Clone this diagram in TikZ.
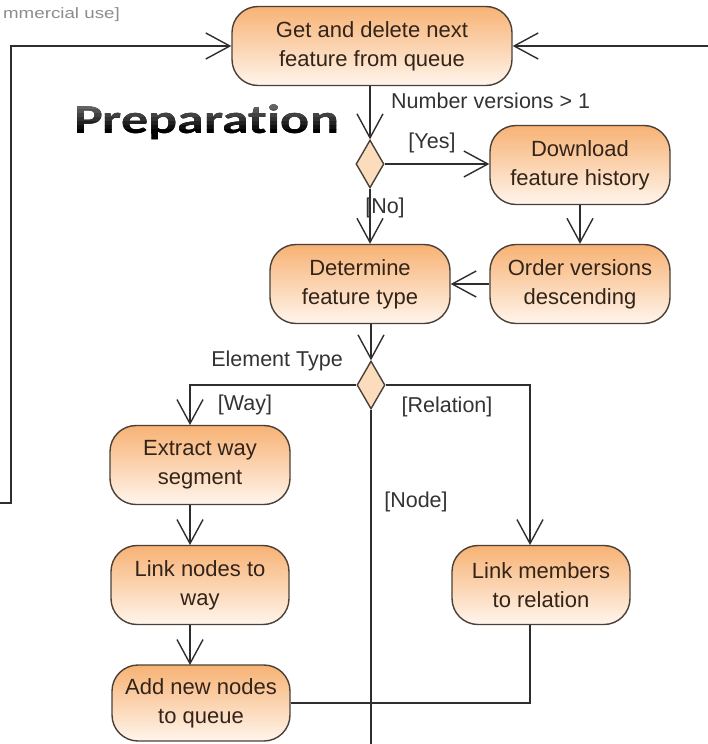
\documentclass[tikz,border=0pt]{standalone}
\usepackage{fontspec}
\usepackage{graphicx}
\setmainfont{Liberation Sans}
\newfontfamily\titlefont[Ligatures=NoCommon]{Carlito}
\usetikzlibrary{arrows.meta,shapes.geometric}

\definecolor{edgecol}{HTML}{2E2E2E}
\definecolor{actborder}{HTML}{4A4038}
\definecolor{acttext}{HTML}{33241A}
\definecolor{acttop}{HTML}{F7B274}
\definecolor{actbot}{HTML}{FFF5EC}
\definecolor{decfill}{HTML}{FBDDBE}
\definecolor{labelcol}{HTML}{333333}
\definecolor{notecol}{HTML}{8C8C8C}

\newcommand{\headingtext}{\scalebox{1.32}[1]{\titlefont\bfseries\fontsize{41}{41}\selectfont Preparat\kern0pt ion}}

\tikzset{
  activity/.style={rectangle, rounded corners=26pt, draw=actborder, line width=1.4pt,
    top color=acttop, bottom color=actbot, minimum height=79pt, inner sep=0pt,
    align=center, text=acttext, font=\fontsize{22}{29}\selectfont},
  decision/.style={diamond, draw=actborder, line width=1.4pt, fill=decfill,
    minimum width=28pt, minimum height=48pt, inner sep=0pt},
  flow/.style={draw=edgecol, line width=1.4pt},
  flowarrow/.style={flow, -{Straight Barb[length=24pt, width=26pt, line width=1.4pt]}},
  guard/.style={text=labelcol, font=\fontsize{21.5}{24}\selectfont, inner sep=0pt},
  headingword/.style={inner sep=0pt, anchor=base west}
}

\begin{document}
\begin{tikzpicture}[x=1pt, y=-1pt]
  \useasboundingbox (0,0) rectangle (708,744);

  % activities
  \node[activity, minimum width=280pt] (get) at (372,46) {Get and delete next\\feature from queue};
  \node[activity, minimum width=180pt] (download) at (580,165) {Download\\feature history};
  \node[activity, minimum width=180pt] (order) at (580,284) {Order versions\\descending};
  \node[activity, minimum width=180pt] (determine) at (360,284) {Determine\\feature type};
  \node[activity, minimum width=180pt] (extract) at (200,465) {Extract way\\segment};
  \node[activity, minimum width=178pt] (linknodes) at (200,585) {Link nodes to\\way};
  \node[activity, minimum width=178pt, minimum height=76pt] (addnodes) at (201,703) {Add new nodes\\to queue};
  \node[activity, minimum width=178pt] (linkmembers) at (541,585) {Link members\\to relation};

  % decisions
  \node[decision] (versions) at (370,164) {};
  \node[decision] (etype) at (371,385) {};

  % helper points
  \coordinate (loopin) at (0,503);
  \coordinate (loopcorner) at (11,503);
  \coordinate (looptop) at (11,46);
  \coordinate (rightin) at (708,46);
  \coordinate (nodeout) at (371,744);
  \coordinate (waycorner) at (190,385);
  \coordinate (wayin) at (190,425);
  \coordinate (relcorner) at (530,385);
  \coordinate (relin) at (530,545);
  \coordinate (joinr) at (530,703);
  \coordinate (ex1) at (190,505);
  \coordinate (ln0) at (190,545);
  \coordinate (ln1) at (190,625);
  \coordinate (an0) at (190,665);

  % connectors
  \draw[flowarrow] (get.south -| versions) -- (versions.north);
  \draw[flowarrow] (versions.east) -- (versions.east -| download.west);
  \draw[flowarrow] (versions.south) -- (versions.south |- determine.north);
  \draw[flowarrow] (download) -- (order);
  \draw[flowarrow] (order) -- (determine);
  \draw[flowarrow] (determine.south -| etype) -- (etype.north);
  \draw[flowarrow] (etype.west) -- (waycorner) -- (wayin);
  \draw[flowarrow] (etype.east) -- (relcorner) -- (relin);
  \draw[flow] (etype.south) -- (nodeout);
  \draw[flowarrow] (ex1) -- (ln0);
  \draw[flowarrow] (ln1) -- (an0);
  \draw[flow] (addnodes.east |- joinr) -- (joinr) -- (linkmembers.south -| joinr);
  \draw[flowarrow] (loopin) -- (loopcorner) -- (looptop) -- (get.west);
  \draw[flowarrow] (rightin) -- (get.east);

  % guards and decision labels
  \node[guard, anchor=west] (lblversions) at (391,101) {Number versions > 1};
  \node[guard] (lblyes) at (432,143) {[Yes]};
  \node[guard] (lblno) at (385,208) {[No]};
  \node[guard] (lbltype) at (277,361) {Element Type};
  \node[guard] (lblway) at (245,405) {[Way]};
  \node[guard] (lblrel) at (447,407) {[Relation]};
  \node[guard] (lblnode) at (416,502) {[Node]};

  % heading: lettering painted in horizontal bands, grey at the top to black below
  \node[headingword, text=black] (heading) at (74,133) {\headingtext};
  \foreach \band in {0,...,8} {
    \begin{scope}
      \clip (60,{97+4*\band}) rectangle (350,{101.3+4*\band});
      \pgfmathsetmacro{\shade}{48+6.5*\band}
      \node[headingword, text=black!\shade!white] (headingband\band) at (74,133) {\headingtext};
    \end{scope}
  }

  % corner note
  \node[anchor=base east, inner sep=0pt, text=notecol] (note) at (120,19)
    {\scalebox{1.25}[1]{\fontsize{15}{15}\selectfont mmercial use]}};
\end{tikzpicture}
\end{document}
